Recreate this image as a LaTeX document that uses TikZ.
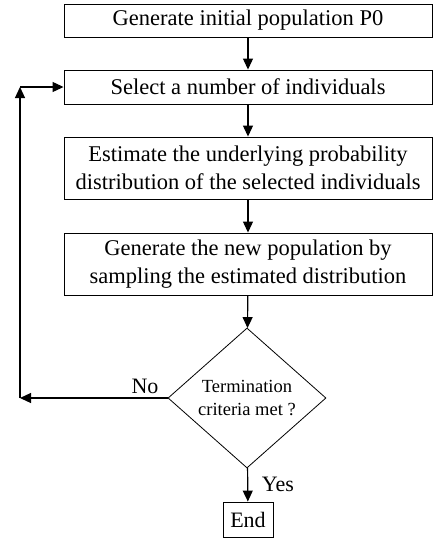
\documentclass[tikz,border=0pt]{standalone}
\usepackage{fontspec}
\setmainfont{Liberation Serif}
\usetikzlibrary{arrows.meta,shapes.geometric}
\begin{document}
\begin{tikzpicture}[x=1pt,y=-1pt,
  box/.style={draw,line width=0.9pt,minimum width=368pt,inner sep=0pt,align=center,font=\fontsize{22.5}{28}\selectfont},
  dec/.style={draw,diamond,line width=0.8pt,minimum width=158pt,minimum height=140pt,inner sep=0pt,aspect=1.13,align=center,font=\fontsize{18.5}{23}\selectfont},
  endbox/.style={draw,line width=0.9pt,minimum width=50pt,minimum height=35pt,inner sep=0pt,font=\fontsize{22}{26}\selectfont},
  conn/.style={line width=1.2pt,-{Triangle[length=11pt,width=10pt]}},
  lbl/.style={inner sep=0pt,font=\fontsize{22}{26}\selectfont}]
\useasboundingbox (0,0) rectangle (433,539);
\node[box,minimum height=33pt] (b1) at (248,20.5) {Generate initial population P0};
\node[box,minimum height=34pt] (b2) at (248,87) {Select a number of individuals};
\node[box,minimum height=62pt] (b3) at (248,168) {Estimate the underlying probability\\distribution of the selected individuals};
\node[box,minimum height=62pt] (b4) at (248,264) {Generate the new population by\\sampling the estimated distribution};
\node[dec] (d) at (247,398) {Termination\\criteria met ?};
\node[endbox] (e) at (248,519.5) {End};
\node[lbl] (no) at (145,386) {No};
\node[lbl] (yes) at (278,484) {Yes};
\coordinate (L1) at (20,398);
\coordinate (L2) at (20,87);
\draw[conn] (b1) -- (b2);
\draw[conn] (b2) -- (b3);
\draw[conn] (b3) -- (b4);
\draw[conn] (b4) -- (d);
\draw[conn] (d) -- (e);
\draw[conn] (d.west) -- (L1);
\draw[conn] (L1) -- (L2);
\draw[conn] (L2) -- (L2 -| b2.west);
\end{tikzpicture}
\end{document}
